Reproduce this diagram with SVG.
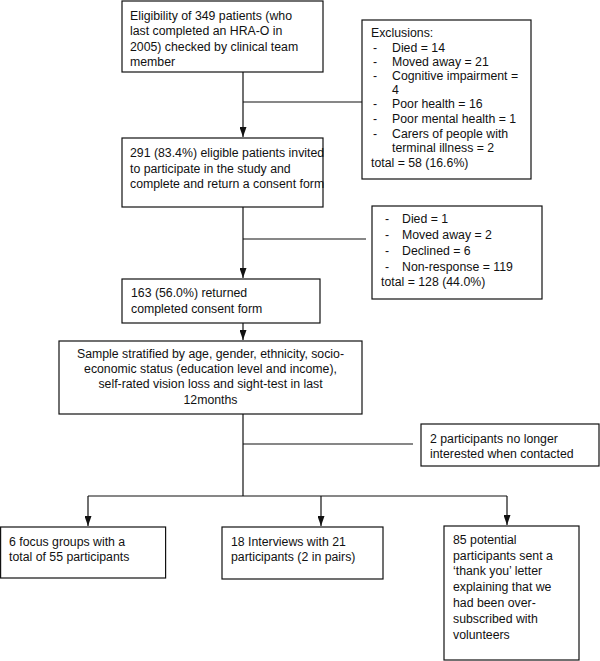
<svg xmlns="http://www.w3.org/2000/svg" width="600" height="661" viewBox="0 0 600 661">
<defs>
<style>
.box{fill:#fff;stroke:#111;stroke-width:1.2}
.t{font-family:"Liberation Sans",Arial,sans-serif;font-size:12.3px;fill:#111}
.c{text-anchor:middle}
.ln{fill:none;stroke:#111;stroke-width:1.2}
</style>
<marker id="ah" viewBox="0 0 10 7" refX="10" refY="3.5" markerWidth="10" markerHeight="7" markerUnits="userSpaceOnUse" orient="auto">
<path d="M0,0 L10,3.5 L0,7 z" fill="#111"/>
</marker>
</defs>
<rect width="600" height="661" fill="#fff"/>
<g id="connectors">
<path class="ln" d="M243,72 V137" marker-end="url(#ah)"/>
<path class="ln" d="M243,102 H362"/>
<path class="ln" d="M243,207 V278" marker-end="url(#ah)"/>
<path class="ln" d="M243,239 H366"/>
<path class="ln" d="M243,323 V340" marker-end="url(#ah)"/>
<path class="ln" d="M243,414 V496"/>
<path class="ln" d="M243,444 H413"/>
<path class="ln" d="M88,496 H507"/>
<path class="ln" d="M88,496 V526" marker-end="url(#ah)"/>
<path class="ln" d="M321,496 V526" marker-end="url(#ah)"/>
<path class="ln" d="M507,496 V525" marker-end="url(#ah)"/>
</g>
<g id="eligibility">
<rect class="box" x="122" y="1" width="201" height="71"/>
<text class="t" x="130" y="19.5">Eligibility of 349 patients (who</text>
<text class="t" x="130" y="35">last completed an HRA-O in</text>
<text class="t" x="130" y="50.5">2005) checked by clinical team</text>
<text class="t" x="130" y="66">member</text>
</g>
<g id="exclusions1">
<rect class="box" x="362" y="20" width="169" height="159"/>
<text class="t" x="371" y="37">Exclusions:</text>
<text class="t" x="373" y="51.5">-</text><text class="t" x="392" y="51.5">Died = 14</text>
<text class="t" x="373" y="66">-</text><text class="t" x="392" y="66">Moved away = 21</text>
<text class="t" x="373" y="80">-</text><text class="t" x="392" y="80">Cognitive impairment =</text>
<text class="t" x="392" y="94">4</text>
<text class="t" x="373" y="108">-</text><text class="t" x="392" y="108">Poor health = 16</text>
<text class="t" x="373" y="123">-</text><text class="t" x="392" y="123">Poor mental health = 1</text>
<text class="t" x="373" y="137.5">-</text><text class="t" x="392" y="137.5">Carers of people with</text>
<text class="t" x="392" y="152">terminal illness = 2</text>
<text class="t" x="371" y="167">total = 58 (16.6%)</text>
</g>
<g id="eligible">
<rect class="box" x="122" y="138" width="201" height="69"/>
<text class="t" x="130" y="157">291 (83.4%) eligible patients invited</text>
<text class="t" x="130" y="172.5">to participate in the study and</text>
<text class="t" x="130" y="188">complete and return a consent form</text>
</g>
<g id="exclusions2">
<rect class="box" x="372" y="206" width="170" height="93"/>
<text class="t" x="385" y="223">-</text><text class="t" x="402" y="223">Died = 1</text>
<text class="t" x="385" y="238.5">-</text><text class="t" x="402" y="238.5">Moved away = 2</text>
<text class="t" x="385" y="254.5">-</text><text class="t" x="402" y="254.5">Declined = 6</text>
<text class="t" x="385" y="270.5">-</text><text class="t" x="402" y="270.5">Non-response = 119</text>
<text class="t" x="381" y="286">total = 128 (44.0%)</text>
</g>
<g id="returned">
<rect class="box" x="122" y="279" width="198" height="44"/>
<text class="t" x="131" y="296.5">163 (56.0%) returned</text>
<text class="t" x="131" y="313">completed consent form</text>
</g>
<g id="sample">
<rect class="box" x="59" y="341" width="303" height="73"/>
<text class="t c" x="210.5" y="357.5">Sample stratified by age, gender, ethnicity, socio-</text>
<text class="t c" x="210.5" y="372.5">economic status (education level and income),</text>
<text class="t c" x="210.5" y="387.5">self-rated vision loss and sight-test in last</text>
<text class="t c" x="210.5" y="403.5">12months</text>
</g>
<g id="notinterested">
<rect class="box" x="421" y="424" width="178" height="42"/>
<text class="t" x="430" y="442.5">2 participants no longer</text>
<text class="t" x="430" y="458">interested when contacted</text>
</g>
<g id="focusgroups">
<rect class="box" x="0.6" y="527" width="165" height="51"/>
<text class="t" x="9" y="545.5">6 focus groups with a</text>
<text class="t" x="9" y="561">total of 55 participants</text>
</g>
<g id="interviews">
<rect class="box" x="222" y="527" width="161" height="52"/>
<text class="t" x="231" y="545.5">18 Interviews with 21</text>
<text class="t" x="231" y="561">participants (2 in pairs)</text>
</g>
<g id="thankyou">
<rect class="box" x="444" y="526" width="135" height="134"/>
<text class="t" x="453" y="543.5">85 potential</text>
<text class="t" x="453" y="559.5">participants sent a</text>
<text class="t" x="453" y="575">‘thank you’ letter</text>
<text class="t" x="453" y="591">explaining that we</text>
<text class="t" x="453" y="607">had been over-</text>
<text class="t" x="453" y="622.5">subscribed with</text>
<text class="t" x="453" y="638.5">volunteers</text>
</g>
</svg>
